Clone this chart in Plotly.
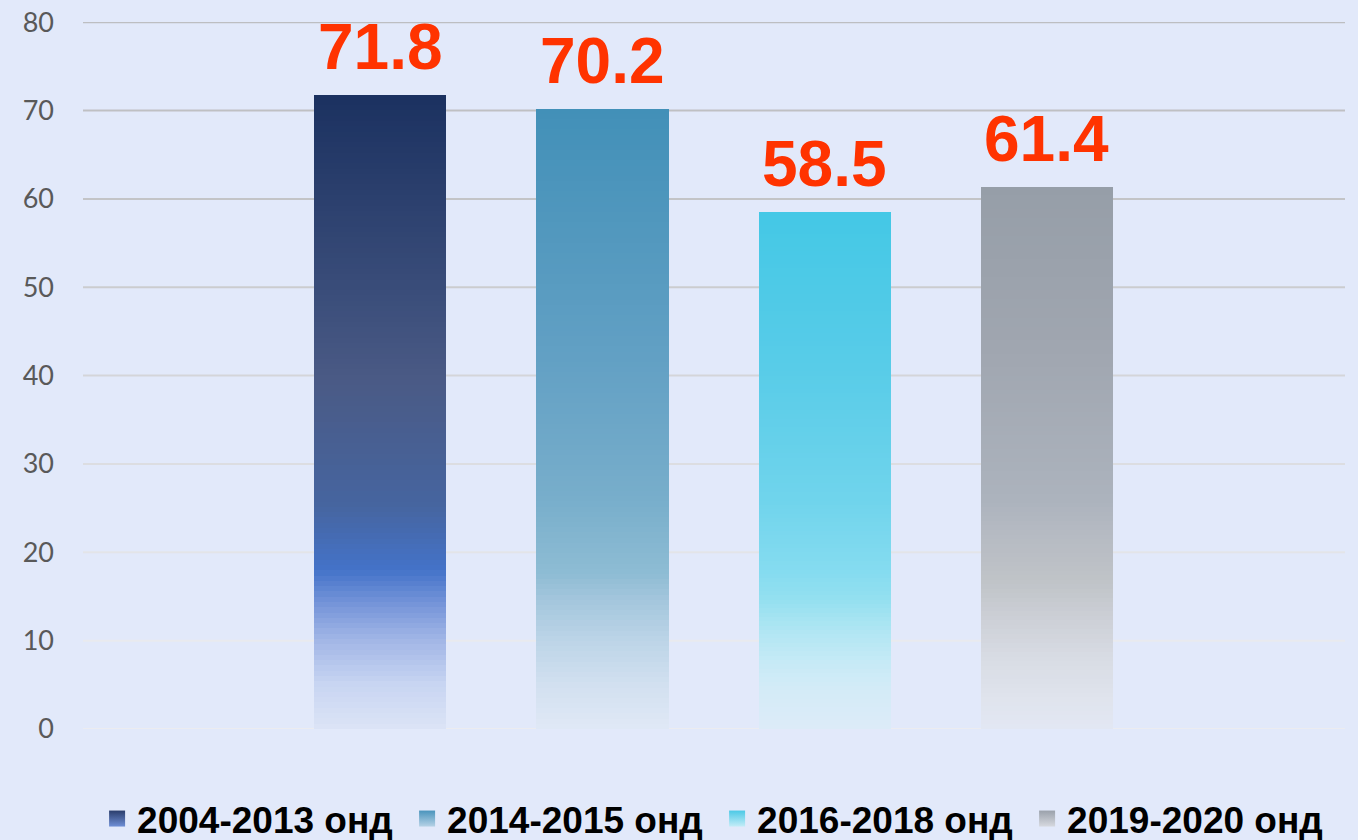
import plotly.graph_objects as go

# ---- data ----
series_names = ["2004-2013 онд", "2014-2015 онд", "2016-2018 онд", "2019-2020 онд"]
values = [71.8, 70.2, 58.5, 61.4]
value_labels = ["71.8", "70.2", "58.5", "61.4"]
y_ticks = [0, 10, 20, 30, 40, 50, 60, 70, 80]
y_tick_text = ["0", "10", "20", "30", "40", "50", "60", "70", "80"]

# ---- styles ----
# gradient stops (fraction of bar height from bottom, colour)
gradients = [
    [(0.00, "#dce4f6"), (0.07, "#c8d5f2"), (0.14, "#a2b6e6"), (0.20, "#7393d8"),
     (0.25, "#4473c9"), (0.35, "#4665a0"), (0.55, "#4a5a85"), (0.70, "#394c79"),
     (1.00, "#1b3160")],
    [(0.00, "#e0e8f6"), (0.07, "#d2e0f0"), (0.14, "#bdd5e8"), (0.21, "#a3c6dc"),
     (0.25, "#8ebcd4"), (0.37, "#78aecb"), (0.60, "#62a0c4"), (1.00, "#4290b8")],
    [(0.00, "#dcebf8"), (0.08, "#d3ebf7"), (0.13, "#c6eaf6"), (0.19, "#b0e6f3"),
     (0.25, "#94e0f0"), (0.30, "#86dcf0"), (0.44, "#70d4ec"), (0.70, "#58cce8"),
     (1.00, "#44c8e6")],
    [(0.00, "#e2e7f3"), (0.05, "#e0e4ee"), (0.13, "#d8dce4"), (0.20, "#cdd0d7"),
     (0.27, "#c0c4c8"), (0.37, "#b4b9c2"), (0.42, "#acb3bd"), (0.70, "#a0a6b0"),
     (1.00, "#969ea8")],
]
legend_colors = ["#2a3d6c", "#4a94bc", "#4cc9e6", "#9aa1ab"]
legend_grad = ["#6f8fd6", "#b6d2e6", "#c4ecf7", "#d6d9df"]
grid_colors = ["#ececf0", "#e9eaee", "#e3e4e8", "#dcdde1", "#d4d5d9",
               "#cbcccf", "#c3c4c7", "#bfc0c3", "#bdbec1"]
bg = "#e2e9fa"
N_SEG = 120


def hex2rgb(h):
    h = h.lstrip("#")
    return tuple(int(h[i:i + 2], 16) for i in (0, 2, 4))


def interp(stops, f):
    for (f0, c0), (f1, c1) in zip(stops[:-1], stops[1:]):
        if f0 <= f <= f1:
            t = 0 if f1 == f0 else (f - f0) / (f1 - f0)
            a, b = hex2rgb(c0), hex2rgb(c1)
            r = [round(a[k] + (b[k] - a[k]) * t) for k in range(3)]
            return "rgb(%d,%d,%d)" % tuple(r)
    return stops[-1][1]


fig = go.Figure()

for si, (name, val) in enumerate(zip(series_names, values)):
    seg = val / N_SEG
    idx = list(range(N_SEG))[::-1]
    bases = [seg * i for i in idx]
    heights = [seg * 1.02 if i < N_SEG - 1 else seg for i in idx]
    colors = [interp(gradients[si], (i + 0.5) / N_SEG) for i in idx]
    fig.add_trace(go.Bar(
        x=[name] * N_SEG,
        y=heights,
        base=bases,
        name=name,
        legendgroup=name,
        width=0.595,
        marker=dict(color=colors, line=dict(width=0)),
        hoverinfo="skip",
        showlegend=False,
    ))

# legend entries (square swatches)
for si, name in enumerate(series_names):
    fig.add_trace(go.Scatter(
        x=[None], y=[None], mode="markers", name=name, legendgroup=name,
        marker=dict(symbol="square", size=19, color=legend_colors[si],
                    gradient=dict(type="vertical", color=legend_grad[si]),
                    line=dict(width=0)),
        showlegend=True,
    ))

for name, val, lab in zip(series_names, values, value_labels):
    fig.add_annotation(
        x=name, y=val, text=lab, showarrow=False,
        yanchor="bottom", yshift=10,
        font=dict(family="Liberation Sans, Arial", size=64, color="#ff3300", weight="bold"),
    )

for t, c in zip(y_ticks, grid_colors):
    fig.add_shape(type="line", xref="paper", yref="y", x0=0, x1=1, y0=t, y1=t,
                  line=dict(color=c, width=2), layer="below")

fig.update_layout(
    width=1358, height=840,
    margin=dict(l=83, r=13, t=22, b=111, autoexpand=False),
    paper_bgcolor=bg, plot_bgcolor=bg,
    barmode="overlay",
    bargap=0,
    showlegend=True,
    legend=dict(
        orientation="h", xref="container", x=0.0715, xanchor="left",
        yref="container", y=0.025, yanchor="middle",
        entrywidth=265, entrywidthmode="pixels",
        font=dict(family="Liberation Sans, Arial", size=37, color="black", weight="bold"),
        bgcolor="rgba(0,0,0,0)", itemclick=False, itemdoubleclick=False,
    ),
    xaxis=dict(
        categoryorder="array", categoryarray=series_names,
        range=[-1.338, 4.342], showticklabels=False, showgrid=False,
        zeroline=False, showline=False, ticks="",
    ),
    yaxis=dict(
        range=[0, 80.02], tickmode="array", tickvals=y_ticks, ticktext=y_tick_text,
        showgrid=False, zeroline=False,
        showline=False, ticks="", ticklabelstandoff=28, automargin=False,
        ticklabeloverflow="allow",
        tickfont=dict(family="Lato, Open Sans", size=27, color="#595959"),
    ),
)

fig.write_html(
    "out.html",
    config={"displayModeBar": False},
    post_script="document.body.style.margin='0';document.body.style.background='%s';" % bg,
)
